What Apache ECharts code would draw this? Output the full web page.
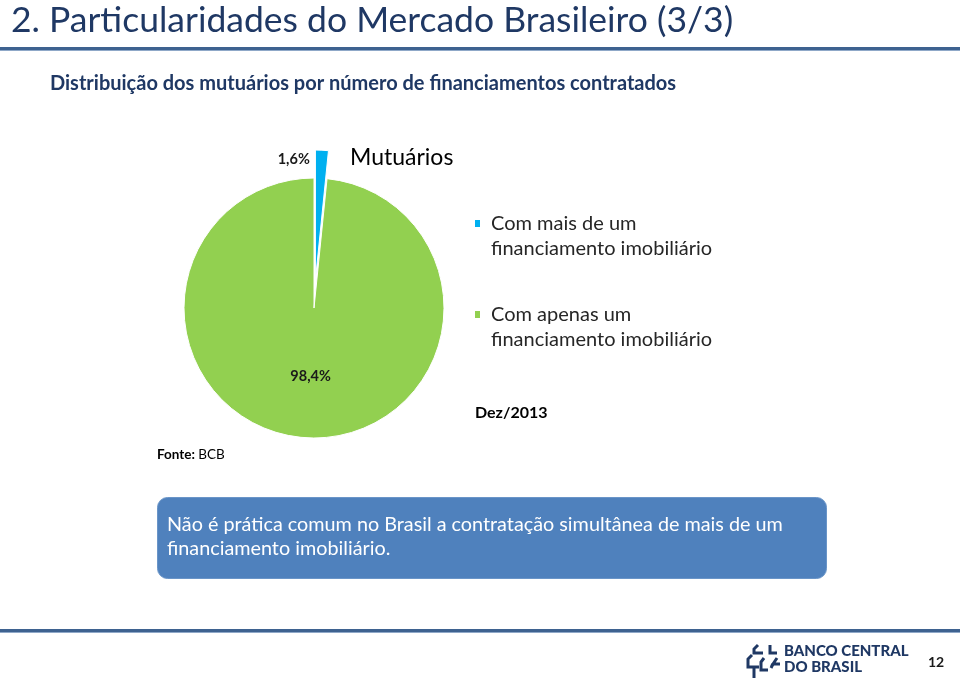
<!DOCTYPE html>
<html><head><meta charset="utf-8">
<script src="https://cdn.jsdelivr.net/npm/echarts@6/dist/echarts.min.js"></script>
<style>html,body{margin:0;padding:0;background:#fff}#c{width:960px;height:682px}</style>
</head><body><div id="c"></div>
<script>
// ---- data ----
const slideTitle = '2. Particularidades do Mercado Brasileiro (3/3)';
const chartSubtitle = 'Distribuição dos mutuários por número de financiamentos contratados';
const pieTitle = 'Mutuários';
const categories = ['Com mais de um\nfinanciamento imobiliário', 'Com apenas um\nfinanciamento imobiliário'];
const values = [1.6, 98.4];
const sliceColors = ['#00B0F0', '#92D050'];
const periodLabel = 'Dez/2013';
const sourceLabel = 'BCB';
const noteText = 'Não é prática comum no Brasil a contratação simultânea de mais de um\nfinanciamento imobiliário.';
const pageNumber = '12';

const FONT = 'Lato';
const NAVY = '#1F3864';

const chart = echarts.init(document.getElementById('c'), null, {renderer: 'canvas'});

const pieData = categories.map((name, i) => ({
  name: name,
  value: values[i],
  selected: i === 0,
  itemStyle: {color: sliceColors[i]},
  label: i === 0 ? {position: 'outside'} : {position: 'inside'}
}));

const logoStroke = {stroke: NAVY, lineWidth: 3, fill: null, lineJoin: 'miter'};

const option = {
  animation: false,
  backgroundColor: '#ffffff',
  title: [
    {text: slideTitle, left: 6, top: -2,
     textStyle: {fontFamily: FONT, fontSize: 35.5, fontWeight: 'normal', color: NAVY}},
    {text: chartSubtitle, left: 45, top: 69,
     textStyle: {fontFamily: FONT, fontSize: 20, fontWeight: 'bold', color: NAVY}},
    {text: pieTitle, left: 345, top: 141,
     textStyle: {fontFamily: FONT, fontSize: 23, fontWeight: 'normal', color: '#000'}}
  ],
  legend: {
    orient: 'vertical', left: 468, top: 181,
    icon: 'rect', itemWidth: 7, itemHeight: 9, itemGap: 16,
    selectedMode: false,
    data: categories,
    formatter: n => ' \n' + n,
    textStyle: {fontFamily: FONT, fontSize: 20, color: '#262626', lineHeight: 25, padding: [0, 0, 0, 5]}
  },
  series: [{
    type: 'pie',
    center: [314, 308],
    radius: 130,
    startAngle: 90,
    clockwise: true,
    selectedMode: 'single',
    selectedOffset: 28,
    avoidLabelOverlap: false,
    itemStyle: {borderColor: '#ffffff', borderWidth: 1},
    labelLine: {show: false},
    label: {
      show: true,
      fontFamily: FONT, fontSize: 14.5, fontWeight: 'bold', color: '#1a1a1a',
      formatter: p => p.value.toFixed(1).replace('.', ',') + '%'
    },
    labelLayout: function (params) {
      if (params.dataIndex === 0) {
        return {dx: -80, dy: 24};
      }
      return {};
    },
    emphasis: {disabled: true},
    data: pieData
  }],
  graphic: [
    {type: 'rect', left: 0, top: 47, shape: {width: 960, height: 4}, style: {fill: '#3E6290'}},
    {type: 'rect', left: 0, top: 50, shape: {width: 960, height: 1}, style: {fill: '#8FA8C8'}},
    {type: 'rect', left: 0, top: 629, shape: {width: 960, height: 4}, style: {fill: '#3E6290'}},
    {type: 'rect', left: 0, top: 632, shape: {width: 960, height: 1}, style: {fill: '#8FA8C8'}},
    {type: 'text', left: 475, top: 405,
     style: {text: periodLabel, font: 'bold 16px ' + FONT, fill: '#000'}},
    {type: 'text', left: 157, top: 448,
     style: {text: '{b|Fonte:} {n|' + sourceLabel + '}',
       rich: {b: {fontFamily: FONT, fontSize: 13.5, fontWeight: 'bold', color: '#000'},
              n: {fontFamily: FONT, fontSize: 13.5, color: '#000'}}}},
    {type: 'rect', left: 157, top: 497,
     shape: {width: 669, height: 81, r: 10},
     style: {fill: '#4F81BD', stroke: '#6A95C8', lineWidth: 1}},
    {type: 'text', left: 167, top: 513,
     style: {text: noteText, font: '19.8px ' + FONT, fill: '#ffffff', lineHeight: 24}},
    // logo icon (approximate)
    {type: 'group', x: 746, y: 643, children: [
      {type: 'polyline', shape: {points: [[12, 2], [8, 6], [8, 10], [17, 10]]}, style: logoStroke},
      {type: 'polyline', shape: {points: [[24, 2], [24, 10], [31, 10]]}, style: logoStroke},
      {type: 'polyline', shape: {points: [[6, 12], [2, 16], [2, 24], [13, 24]]}, style: logoStroke},
      {type: 'polyline', shape: {points: [[8, 24], [8, 35]]}, style: logoStroke},
      {type: 'polyline', shape: {points: [[18, 15], [15, 19], [15, 27], [22, 27]]}, style: logoStroke},
      {type: 'polyline', shape: {points: [[31, 15], [27, 21], [34, 21]]}, style: logoStroke},
      {type: 'polyline', shape: {points: [[27, 21], [25, 25]]}, style: logoStroke}
    ]},
    {type: 'text', left: 784, top: 643,
     style: {text: 'BANCO CENTRAL\nDO BRASIL', font: '900 15px ' + FONT, fill: NAVY, lineHeight: 16}},
    {type: 'text', left: 928, top: 655,
     style: {text: pageNumber, font: 'bold 14px ' + FONT, fill: '#1a1a1a'}}
  ]
};
chart.setOption(option);
</script>
</body></html>
